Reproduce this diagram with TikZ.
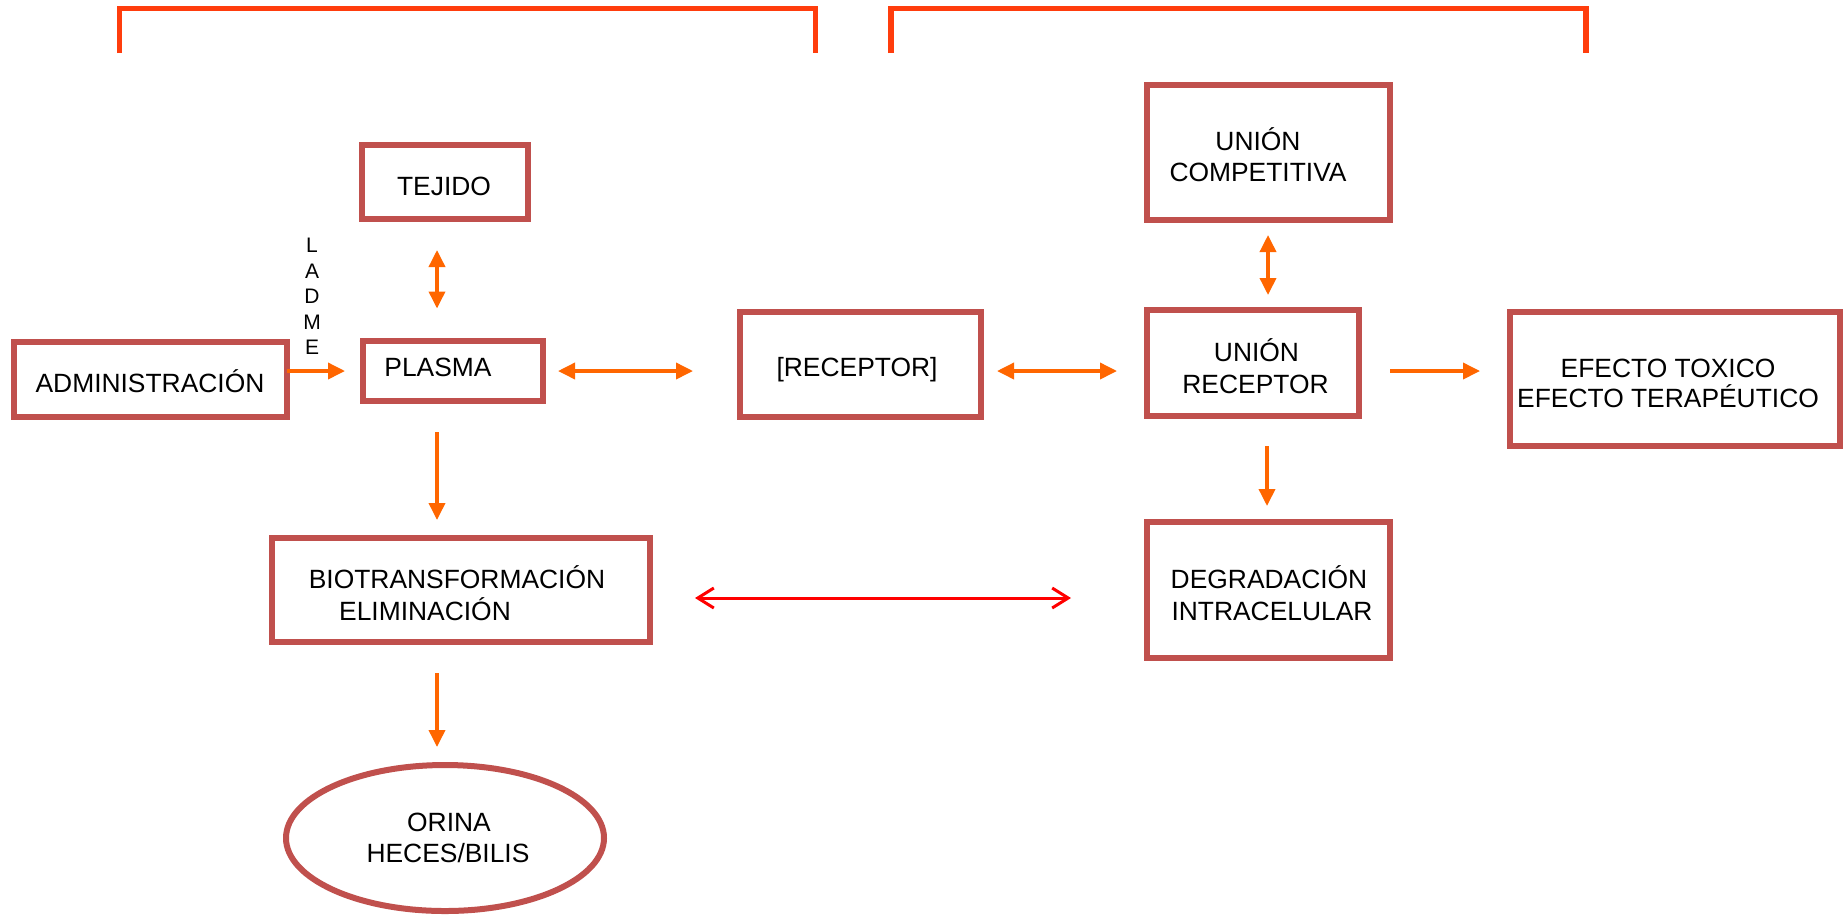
\documentclass[tikz,border=0pt]{standalone}
\usepackage{fontspec}
\setmainfont{Liberation Sans}
\usetikzlibrary{arrows.meta,shapes.geometric,calc}
\definecolor{boxred}{RGB}{192,80,77}
\definecolor{flow}{RGB}{255,102,0}
\definecolor{brace}{RGB}{255,61,13}
\definecolor{pure}{RGB}{255,0,0}
\tikzset{
  box/.style={draw=boxred, line width=3pt, inner sep=0pt, fill=white},
  lbl/.style={anchor=base, inner sep=0pt, font=\fontsize{13.2}{15.5}\selectfont},
  oarrow/.style={draw=flow, line width=1.8pt, -{Triangle[length=8.5pt,width=8pt]}},
  odarrow/.style={draw=flow, line width=1.8pt, {Triangle[length=8.5pt,width=8pt]}-{Triangle[length=8.5pt,width=8pt]}},
  rdarrow/.style={draw=pure, line width=1.5pt, {Straight Barb[length=8pt,width=10pt]}-{Straight Barb[length=8pt,width=10pt]}},
  bracket/.style={draw=brace, line width=2.8pt}
}
\begin{document}
\begin{tikzpicture}[x=0.5pt, y=-0.5pt]
\path[use as bounding box] (0,0) rectangle (1845,917);

% top brackets
\draw[bracket] (119.5,53) -- (119.5,8.5) -- (815.5,8.5) -- (815.5,53);
\draw[bracket] (891,53) -- (891,8.5) -- (1586,8.5) -- (1586,53);

% boxes
\node[box, minimum width=83pt, minimum height=37pt] (tejido) at (444.5,181.5) {};
\node[box, minimum width=90pt, minimum height=30pt] (plasma) at (452.5,370.5) {};
\node[box, minimum width=136.5pt, minimum height=37.5pt] (admin) at (150,379) {};
\node[box, minimum width=120.5pt, minimum height=52.5pt] (receptor) at (860,364) {};
\node[box, minimum width=121.5pt, minimum height=67.5pt] (comp) at (1268,152) {};
\node[box, minimum width=106pt, minimum height=53pt] (union) at (1253,363) {};
\node[box, minimum width=165pt, minimum height=67pt] (efecto) at (1674.5,379) {};
\node[box, minimum width=189pt, minimum height=52pt] (bio) at (460.5,589.5) {};
\node[box, minimum width=121.5pt, minimum height=68pt] (degrad) at (1268,589.5) {};
\node[box, ellipse, minimum width=159pt, minimum height=73pt] (orina) at (445,838) {};

% box texts
\node[lbl] (tTejido) at (444,195.5) {TEJIDO};
\node[lbl] (tPlasma) at (438,376.5) {PLASMA};
\node[lbl] (tAdmin) at (150,392) {ADMINISTRACIÓN};
\node[lbl] (tReceptor) at (857,376.5) {[RECEPTOR]};
\node[lbl] (tComp1) at (1258,150.7) {UNIÓN};
\node[lbl] (tComp2) at (1258,181.3) {COMPETITIVA};
\node[lbl] (tUnion1) at (1256.5,361.5) {UNIÓN};
\node[lbl] (tUnion2) at (1255.5,393.5) {RECEPTOR};
\node[lbl] (tEfecto1) at (1668,377) {EFECTO TOXICO};
\node[lbl] (tEfecto2) at (1668,407.5) {EFECTO TERAPÉUTICO};
\node[lbl] (tBio1) at (457,588.5) {BIOTRANSFORMACIÓN};
\node[lbl] (tBio2) at (425,620.5) {ELIMINACIÓN};
\node[lbl] (tDeg1) at (1269,588.5) {DEGRADACIÓN};
\node[lbl] (tDeg2) at (1272,620.5) {INTRACELULAR};
\node[lbl] (tOrina1) at (449,831.5) {ORINA};
\node[lbl] (tOrina2) at (448,862.5) {HECES/BILIS};

% vertical LADME label
\node[inner sep=0pt, align=center, font=\fontsize{10.5}{12.75}\selectfont] (ladme) at (312,296.5) {L\\A\\D\\M\\E};

% connectors
\draw[odarrow] ($(tejido.south)+(-7.5,28.5)$) -- ($(plasma.north)+(-15.5,-29)$);
\draw[oarrow] ($(admin.east)+(-2.5,-8)$) -- ($(plasma.west)+(-14.5,0.5)$);
\draw[odarrow] ($(plasma.east)+(12.5,0.5)$) -- ($(receptor.west)+(-43.5,7)$);
\draw[odarrow] ($(receptor.east)+(13.5,7)$) -- ($(union.west)+(-27,8)$);
\draw[odarrow] ($(comp.south)+(0,12.5)$) -- ($(union.north)+(15,-12)$);
\draw[oarrow] ($(union.east)+(28,8)$) -- ($(efecto.west)+(-26.5,-8)$);
\draw[oarrow] ($(union.south)+(14,27)$) -- ($(degrad.north)+(-1,-12.5)$);
\draw[oarrow] ($(plasma.south)+(-15.5,28.5)$) -- ($(bio.north)+(-23.5,-14.5)$);
\draw[rdarrow] ($(bio.east)+(42.5,8.5)$) -- ($(degrad.west)+(-72.5,8.5)$);
\draw[oarrow] ($(bio.south)+(-23.5,28.5)$) -- ($(orina.north)+(-8,-15)$);
\end{tikzpicture}
\end{document}
